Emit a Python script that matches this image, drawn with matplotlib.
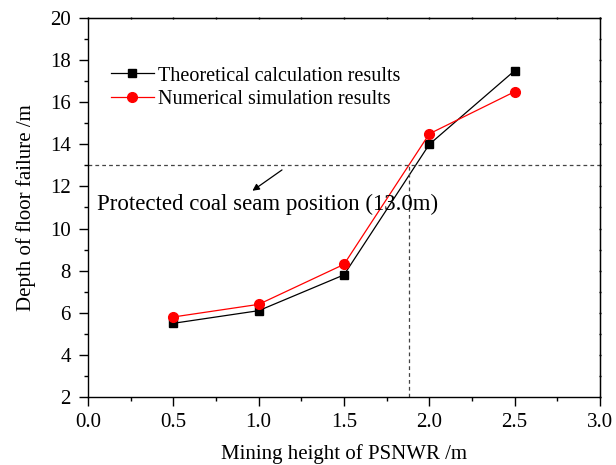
import matplotlib
matplotlib.use('Agg')
import matplotlib.pyplot as plt
from matplotlib.ticker import MultipleLocator

plt.rcParams['font.family'] = ['Liberation Serif', 'DejaVu Serif']
plt.rcParams['mathtext.fontset'] = 'stix'

heights = [0.5, 1.0, 1.5, 2.0, 2.5]
theory = [5.5, 6.1, 7.8, 14.0, 17.5]
numerical = [5.8, 6.4, 8.3, 14.5, 16.5]

seam_depth = 13.0
seam_height = 1.88

fig = plt.figure(figsize=(6.16, 4.65), dpi=100)
ax = fig.add_axes([88 / 616, 68 / 465, 512 / 616, 379 / 465])

ax.plot(heights, theory, color='black', lw=0.9, marker='s', ms=6,
        label='Theoretical calculation results')
ax.plot(heights, numerical, color='red', lw=0.9, marker='o', ms=7,
        label='Numerical simulation results')

ax.axhline(seam_depth, color='#444444', lw=0.9, ls=(0, (3, 2.5)))
ax.plot([seam_height, seam_height], [2, seam_depth], color='#444444',
        lw=0.9, ls=(0, (3, 2.5)))

ax.annotate('', xy=(0.95, 11.72), xytext=(1.15, 12.86),
            arrowprops=dict(arrowstyle='-|>', color='black', lw=0.9,
                            mutation_scale=10))
ax.text(0.055, 11.15, 'Protected coal seam position (13.0m)', fontsize=16.5,
        va='center', ha='left')

ax.set_xlim(0, 3.0)
ax.set_ylim(2, 20)
ax.xaxis.set_major_locator(MultipleLocator(0.5))
ax.xaxis.set_minor_locator(MultipleLocator(0.25))
ax.yaxis.set_major_locator(MultipleLocator(2))
ax.yaxis.set_minor_locator(MultipleLocator(1))
ax.xaxis.set_major_formatter(plt.FormatStrFormatter('%.1f'))
ax.tick_params(which='both', direction='out', labelsize=15, width=1)
ax.tick_params(which='major', length=6.5)
ax.tick_params(which='minor', length=3)
ax.tick_params(axis='x', which='major', pad=5)
ax.tick_params(axis='y', which='major', pad=6)
for s in ax.spines.values():
    s.set_linewidth(1)

# tiny ticks on top and right
top = ax.secondary_xaxis('top')
top.xaxis.set_major_locator(MultipleLocator(0.5))
top.xaxis.set_minor_locator(MultipleLocator(0.25))
top.tick_params(which='both', direction='inout', length=2, width=1,
                labeltop=False)
right = ax.secondary_yaxis('right')
right.yaxis.set_major_locator(MultipleLocator(2))
right.yaxis.set_minor_locator(MultipleLocator(1))
right.tick_params(which='both', direction='inout', length=2, width=1,
                  labelright=False)

ax.set_xlabel('Mining height of PSNWR /m', fontsize=15, labelpad=9)
ax.set_ylabel('Depth of floor failure /m', fontsize=15, labelpad=10)

ax.legend(loc='upper left', bbox_to_anchor=(0.01, 0.92), frameon=False,
          fontsize=14.5, handlelength=2.1, handletextpad=0.2,
          labelspacing=0.2, borderaxespad=0.5)

fig.savefig('out.png', dpi=100)
